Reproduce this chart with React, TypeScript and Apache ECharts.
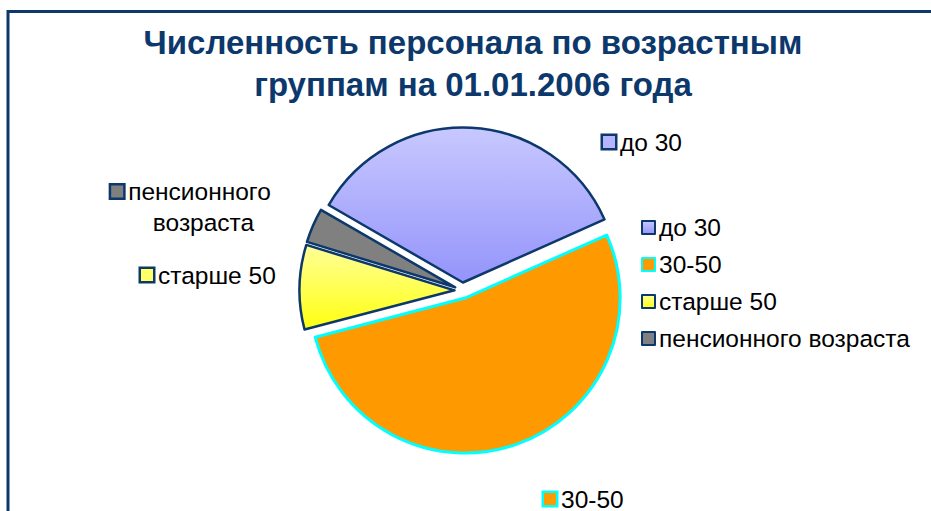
import React, { useEffect, useRef } from "react";
import * as echarts from "echarts";

const titleLines = ["Численность персонала по возрастным", "группам на 01.01.2006 года"];
const categories = ["до 30", "30-50", "старше 50", "пенсионного возраста"];
const values = [35.0, 52.6, 8.8, 3.6];

const NAVY = "#0c386b";
const FONT = "Liberation Sans";
const FS = 24.5;
const fills: any[] = [
  { type: "linear", x: 0, y: 0, x2: 0, y2: 1, colorStops: [{ offset: 0, color: "#c8c8ff" }, { offset: 1, color: "#9494fb" }] },
  "#ff9900",
  { type: "linear", x: 0, y: 0, x2: 0, y2: 1, colorStops: [{ offset: 0, color: "#ffff99" }, { offset: 1, color: "#ffff10" }] },
  "#808080",
];
const flatFills = ["#b4b4ff", "#ff9900", "#ffff66", "#808080"];
const borders = [NAVY, "#00ffff", NAVY, NAVY];
const labelPos = [
  { x: 603, y: 142, align: "left" },
  { x: 544, y: 499, align: "left" },
  { x: 141, y: 275, align: "left" },
  { x: 191, y: 207, align: "center" },
];

export default function App() {
  const ref = useRef<HTMLDivElement>(null);
  useEffect(() => {
    const chart = echarts.init(ref.current!, null, { renderer: "svg" });
    const rich: any = {
      t: { fontSize: FS, color: "#000", fontFamily: FONT, lineHeight: 31, padding: [0, 0, 0, 5], verticalAlign: "middle" },
      s: { fontSize: FS, color: "#000", fontFamily: FONT, lineHeight: 22, padding: [0, 0, 0, 5], verticalAlign: "middle" },
      sp: { width: 20, height: 10, verticalAlign: "middle" },
    };
    categories.forEach((_, i) => {
      rich["m" + i] = {
        width: 12,
        height: 12,
        backgroundColor: flatFills[i],
        borderColor: borders[i],
        borderWidth: 2.5,
        verticalAlign: "middle",
      };
    });
    const labelGraphics = categories.map((name, i) => {
      const parts = name.split(" ");
      const text =
        name.length > 12
          ? `{m${i}|}{t|${parts[0]}}\n{sp|}{t|${parts.slice(1).join(" ")}}`
          : `{m${i}|}{s|${name}}`;
      const lp = labelPos[i];
      return {
        type: "text",
        x: lp.x,
        y: lp.y,
        silent: true,
        style: { text, rich, align: lp.align, verticalAlign: "middle", font: `${FS}px ${FONT}` },
      };
    });
    chart.setOption({
      animation: false,
      title: {
        text: titleLines.join("\n"),
        left: 468,
        textAlign: "center",
        top: 16,
        textStyle: { fontSize: 33, fontWeight: "bold", color: NAVY, fontFamily: FONT, lineHeight: 42 },
      },
      legend: {
        orient: "vertical",
        left: 641,
        top: 215,
        padding: 0,
        itemWidth: 13,
        itemHeight: 13,
        itemGap: 12,
        icon: "rect",
        data: categories,
        selectedMode: false,
        textStyle: { fontSize: FS, color: "#000", fontFamily: FONT, lineHeight: 24, padding: [0, 0, 0, -1] },
      },
      graphic: [
        { type: "rect", shape: { x: 8, y: 11.5, width: 1200, height: 1200 }, style: { fill: "none", stroke: NAVY, lineWidth: 3 }, silent: true },
        ...labelGraphics,
      ],
      series: [
        {
          type: "pie",
          center: [462.5, 290.5],
          radius: 155,
          startAngle: 150,
          clockwise: true,
          selectedMode: "multiple",
          selectedOffset: 8,
          emphasis: { disabled: true },
          label: { show: false },
          labelLine: { show: false },
          data: categories.map((name, i) => ({
            name,
            value: values[i],
            selected: true,
            itemStyle: { color: fills[i], borderColor: borders[i], borderWidth: i === 1 ? 3 : 2.5 },
          })),
        },
      ],
    });
    return () => chart.dispose();
  }, []);
  return <div ref={ref} style={{ position: "absolute", left: 0, top: 0, width: 931, height: 511, background: "#fff" }} />;
}
